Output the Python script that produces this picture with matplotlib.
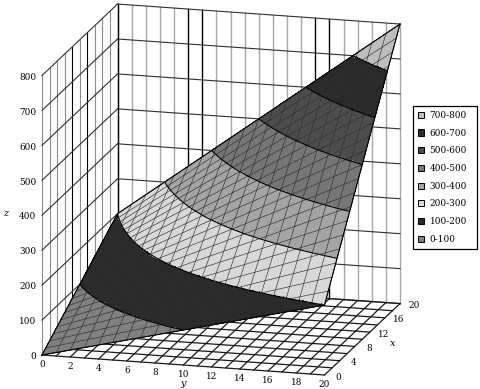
import numpy as np
import matplotlib
matplotlib.use('Agg')
import matplotlib.pyplot as plt
from matplotlib.patches import Patch
from mpl_toolkits.mplot3d import proj3d

# Data
x_vals = list(range(21))
y_vals = list(range(21))
z_rows = [
    [0, 10, 20, 30, 40, 50, 60, 70, 80, 90, 100, 110, 120, 130, 140, 150, 160, 170, 180, 190, 200],
    [10, 21, 32, 43, 54, 65, 76, 87, 98, 109, 120, 131, 142, 153, 164, 175, 186, 197, 208, 219, 230],
    [20, 32, 44, 56, 68, 80, 92, 104, 116, 128, 140, 152, 164, 176, 188, 200, 212, 224, 236, 248, 260],
    [30, 43, 56, 69, 82, 95, 108, 121, 134, 147, 160, 173, 186, 199, 212, 225, 238, 251, 264, 277, 290],
    [40, 54, 68, 82, 96, 110, 124, 138, 152, 166, 180, 194, 208, 222, 236, 250, 264, 278, 292, 306, 320],
    [50, 65, 80, 95, 110, 125, 140, 155, 170, 185, 200, 215, 230, 245, 260, 275, 290, 305, 320, 335, 350],
    [60, 76, 92, 108, 124, 140, 156, 172, 188, 204, 220, 236, 252, 268, 284, 300, 316, 332, 348, 364, 380],
    [70, 87, 104, 121, 138, 155, 172, 189, 206, 223, 240, 257, 274, 291, 308, 325, 342, 359, 376, 393, 410],
    [80, 98, 116, 134, 152, 170, 188, 206, 224, 242, 260, 278, 296, 314, 332, 350, 368, 386, 404, 422, 440],
    [90, 109, 128, 147, 166, 185, 204, 223, 242, 261, 280, 299, 318, 337, 356, 375, 394, 413, 432, 451, 470],
    [100, 120, 140, 160, 180, 200, 220, 240, 260, 280, 300, 320, 340, 360, 380, 400, 420, 440, 460, 480, 500],
    [110, 131, 152, 173, 194, 215, 236, 257, 278, 299, 320, 341, 362, 383, 404, 425, 446, 467, 488, 509, 530],
    [120, 142, 164, 186, 208, 230, 252, 274, 296, 318, 340, 362, 384, 406, 428, 450, 472, 494, 516, 538, 560],
    [130, 153, 176, 199, 222, 245, 268, 291, 314, 337, 360, 383, 406, 429, 452, 475, 498, 521, 544, 567, 590],
    [140, 164, 188, 212, 236, 260, 284, 308, 332, 356, 380, 404, 428, 452, 476, 500, 524, 548, 572, 596, 620],
    [150, 175, 200, 225, 250, 275, 300, 325, 350, 375, 400, 425, 450, 475, 500, 525, 550, 575, 600, 625, 650],
    [160, 186, 212, 238, 264, 290, 316, 342, 368, 394, 420, 446, 472, 498, 524, 550, 576, 602, 628, 654, 680],
    [170, 197, 224, 251, 278, 305, 332, 359, 386, 413, 440, 467, 494, 521, 548, 575, 602, 629, 656, 683, 710],
    [180, 208, 236, 264, 292, 320, 348, 376, 404, 432, 460, 488, 516, 544, 572, 600, 628, 656, 684, 712, 740],
    [190, 219, 248, 277, 306, 335, 364, 393, 422, 451, 480, 509, 538, 567, 596, 625, 654, 683, 712, 741, 770],
    [200, 230, 260, 290, 320, 350, 380, 410, 440, 470, 500, 530, 560, 590, 620, 650, 680, 710, 740, 770, 800],
]
z_ticks = [0, 100, 200, 300, 400, 500, 600, 700, 800]
x_ticks = [0, 4, 8, 12, 16, 20]
y_ticks = [0, 2, 4, 6, 8, 10, 12, 14, 16, 18, 20]
x_grid = [0, 2, 4, 6, 8, 10, 12, 14, 16, 18, 20]
band_labels = ['0-100', '100-200', '200-300', '300-400', '400-500', '500-600', '600-700', '700-800']
band_colors = ['#808080', '#2a2a2a', '#d8d8d8', '#a4a4a4', '#767676', '#4c4c4c', '#2a2a2a', '#bebebe']

# gridlines that came out black in the original, the others look grey
black_x = [8, 12, 20]
black_y = [5, 6, 14, 15]

plt.rcParams['font.family'] = 'DejaVu Serif'
plt.rcParams['font.size'] = 6.4

fig = plt.figure(figsize=(4.8, 3.89), dpi=100)
ax = fig.add_subplot(projection='3d', proj_type='ortho', computed_zorder=False)
ax.set_axis_off()
ax.view_init(elev=15, azim=-164.7)
ax.set_box_aspect((286.7, 293.4, 289.9))
ax.set_xlim(0, 20)
ax.set_ylim(20, 0)
ax.set_zlim(0, 800)

# Walls
for x in x_grid:
    c = 'black' if x in black_x else '#8c8c8c'
    ax.plot([x, x], [0, 0], [0, 800], color=c, lw=0.8, zorder=1)
for y in y_vals:
    c = 'black' if y in black_y or y == 0 else '#a8a8a8'
    ax.plot([20, 20], [y, y], [0, 800], color=c, lw=1.0, zorder=1)
for z in z_ticks:
    ax.plot([0, 20], [0, 0], [z, z], color='#303030', lw=0.8, zorder=1)
    ax.plot([20, 20], [0, 20], [z, z], color='#303030', lw=0.8, zorder=1)

# Floor
for x in x_grid:
    ax.plot([x, x], [0, 20], [0, 0], color='#181818', lw=0.9, zorder=1)
for y in y_vals:
    ax.plot([0, 20], [y, y], [0, 0], color='#181818', lw=0.9, zorder=1)

# Surface, cut into small cells so the bands have clean edges
X, Y = np.meshgrid(x_vals, y_vals, indexing='ij')
Z = np.array(z_rows, dtype=float)
fx = np.linspace(0, 20, 161)
fy = np.linspace(0, 20, 201)
Z_y = np.array([np.interp(fy, y_vals, row) for row in Z])
Z_f = np.array([np.interp(fx, x_vals, col) for col in Z_y.T]).T
FX, FY = np.meshgrid(fx, fy, indexing='ij')
cell_z = (Z_f[:-1, :-1] + Z_f[1:, 1:] + Z_f[1:, :-1] + Z_f[:-1, 1:]) / 4
idx = np.clip((cell_z // 100).astype(int), 0, 7)
face = np.array([matplotlib.colors.to_rgba(c) for c in band_colors])[idx]
ax.plot_surface(FX, FY, Z_f, facecolors=face, rstride=1, cstride=1, shade=False,
                linewidth=0, antialiased=False, zorder=2)

# Mesh on the surface
for i in range(len(x_vals)):
    ax.plot(X[i, :], Y[i, :], Z[i, :], color='#303030', lw=0.45, zorder=3)
for j in range(len(y_vals)):
    ax.plot(X[:, j], Y[:, j], Z[:, j], color='#303030', lw=0.45, zorder=3)

# Band borders and outline
ax.contour(X, Y, Z, levels=z_ticks[1:-1], colors='black', linewidths=0.8, zorder=4)
for line in [(X[0, :], Y[0, :], Z[0, :]), (X[-1, :], Y[-1, :], Z[-1, :]),
             (X[:, 0], Y[:, 0], Z[:, 0]), (X[:, -1], Y[:, -1], Z[:, -1])]:
    ax.plot(*line, color='black', lw=0.8, zorder=4)

# Tick labels, placed at their projected spot
M = ax.get_proj()


def label3d(x, y, z, s, **kw):
    u, v, _ = proj3d.proj_transform(x, y, z, M)
    ax.text2D(u, v, s, transform=ax.transData, va='center', zorder=5, **kw)


for z in z_ticks:
    label3d(0, -0.4, z - 6, str(z), ha='right')
for y in y_ticks:
    label3d(0, y, -27, str(y), ha='center')
for x in x_ticks:
    label3d(x, 21, -3, str(x), ha='center')

fig.text(6 / 480, 1 - 214 / 389, 'z', style='italic', ha='center', va='center', fontsize=7)
fig.text(393 / 480, 1 - 343 / 389, 'x', style='italic', ha='center', va='center', fontsize=7)
fig.text(183 / 480, 1 - 383.5 / 389, 'y', style='italic', ha='center', va='center', fontsize=7)

# Legend, highest band on top
handles = [Patch(facecolor=c, edgecolor='black', linewidth=0.7, label=l)
           for c, l in zip(band_colors[::-1], band_labels[::-1])]
leg = fig.legend(handles=handles, loc='upper left',
                 bbox_to_anchor=(413 / 480, 1 - 249 / 389, 64 / 480, 143 / 389), mode='expand',
                 borderaxespad=0, fancybox=False, framealpha=1, edgecolor='black',
                 labelspacing=0.98, handlelength=0.7, handleheight=0.7, handletextpad=0.6,
                 borderpad=0.55, fontsize=6.4)
leg.get_frame().set_linewidth(0.9)

# Put the box where it sits in the reference: origin at (42, 355), far corner at x=400
fig.canvas.draw()
u0, v0, _ = proj3d.proj_transform(0, 0, 0, M)
u1, v1, _ = proj3d.proj_transform(20, 20, 0, M)
p0 = ax.transData.transform((u0, v0))
p1 = ax.transData.transform((u1, v1))
bbox = ax.get_position()
side = bbox.width * 480 * (400 - 42) / (p1[0] - p0[0])
f0 = ax.transAxes.inverted().transform(p0)
ax.set_position([(42 - f0[0] * side) / 480, (389 - 355 - f0[1] * side) / 389, side / 480, side / 389])

fig.savefig('out.png', dpi=100)
